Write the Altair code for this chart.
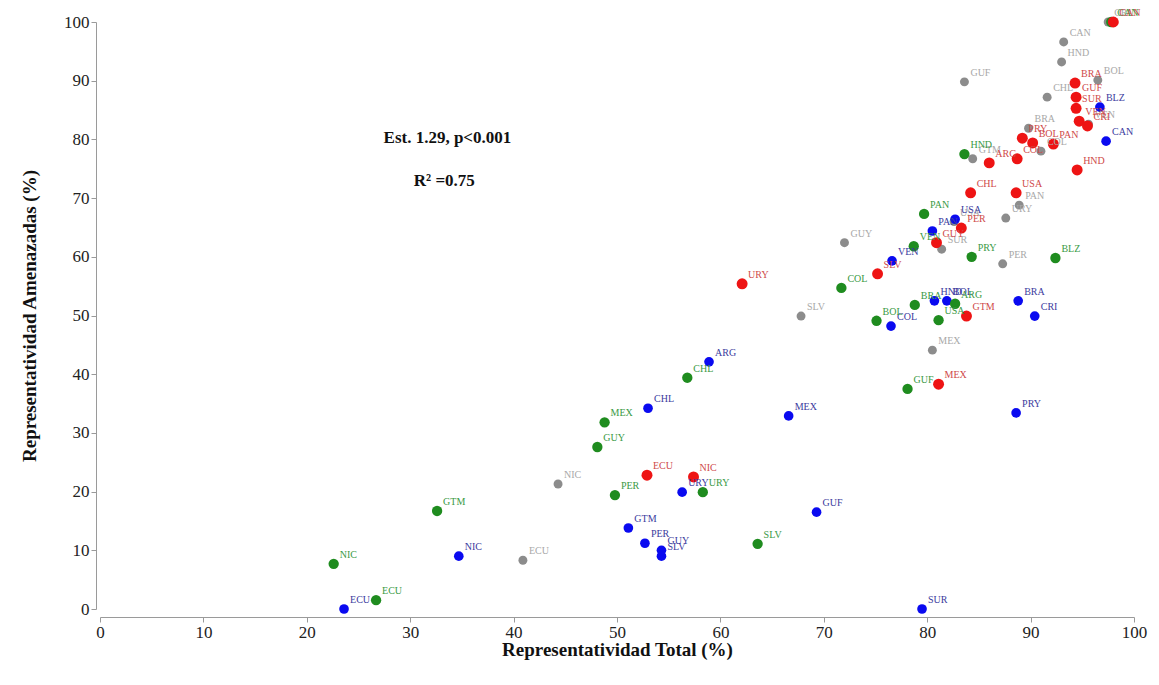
import altair as alt
import pandas as pd

# ---- data ----
gray_labels = ["CRI", "CAN", "HND", "GUF", "BOL", "CHL", "VEN", "BRA", "COL", "GTM",
               "USA", "URY", "PAN", "SUR", "PER", "GUY", "SLV", "MEX", "NIC", "ECU"]
gray_x = [97.5, 93.2, 93.0, 83.6, 96.5, 91.6, 95.6, 89.8, 91.0, 84.4,
          82.6, 87.6, 88.9, 81.4, 87.3, 72.0, 67.8, 80.5, 44.3, 40.9]
gray_y = [100.0, 96.6, 93.2, 89.8, 90.1, 87.2, 82.6, 81.9, 78.0, 76.7,
          66.0, 66.6, 68.8, 61.3, 58.8, 62.4, 49.9, 44.1, 21.3, 8.3]

blue_labels = ["CAN", "BLZ", "USA", "PAN", "VEN", "HND", "BOL", "BRA", "CRI", "COL",
               "ARG", "CHL", "MEX", "PRY", "URY", "GTM", "PER", "GUY", "SLV", "GUF",
               "NIC", "ECU", "SUR"]
blue_x = [97.3, 96.7, 82.7, 80.5, 76.6, 80.7, 81.9, 88.8, 90.4, 76.5,
          58.9, 53.0, 66.6, 88.6, 56.3, 51.1, 52.7, 54.3, 54.3, 69.3,
          34.7, 23.6, 79.5]
blue_y = [79.7, 85.5, 66.4, 64.4, 59.3, 52.5, 52.5, 52.5, 49.9, 48.2,
          42.1, 34.2, 32.9, 33.4, 19.9, 13.8, 11.2, 10.0, 9.0, 16.5,
          9.0, 0.0, 0.0]

green_labels = ["CAN", "HND", "PAN", "VEN", "PRY", "BLZ", "COL", "BRA", "ARG", "BOL",
                "USA", "GUF", "CHL", "MEX", "GUY", "PER", "URY", "SLV", "GTM", "NIC", "ECU"]
green_x = [97.8, 83.6, 79.7, 78.7, 84.3, 92.4, 71.7, 78.8, 82.7, 75.1,
           81.1, 78.1, 56.8, 48.8, 48.1, 49.8, 58.3, 63.6, 32.6, 22.6, 26.7]
green_y = [100.0, 77.5, 67.3, 61.8, 60.0, 59.8, 54.7, 51.8, 52.0, 49.1,
           49.2, 37.5, 39.4, 31.8, 27.6, 19.4, 19.9, 11.1, 16.7, 7.7, 1.5]

red_labels = ["CAN", "BRA", "GUF", "SUR", "VEN", "CRI", "PRY", "BOL", "PAN", "ARG",
              "COL", "HND", "CHL", "USA", "PER", "GUY", "SLV", "URY", "GTM", "MEX",
              "ECU", "NIC"]
red_x = [98.0, 94.3, 94.4, 94.4, 94.7, 95.5, 89.2, 90.2, 92.2, 86.0,
         88.7, 94.5, 84.2, 88.6, 83.3, 80.9, 75.2, 62.1, 83.8, 81.1,
         52.9, 57.4]
red_y = [100.0, 89.6, 87.2, 85.3, 83.1, 82.3, 80.2, 79.4, 79.2, 76.0,
         76.7, 74.8, 70.9, 70.9, 64.9, 62.4, 57.1, 55.4, 49.9, 38.3,
         22.8, 22.5]

groups = ["gris", "azul", "verde", "rojo"]
x_ticks = [0, 10, 20, 30, 40, 50, 60, 70, 80, 90, 100]

ann_text = ["Est. 1.29, p<0.001", "R\u00b2 =0.75"]
ann_x = [33.6, 33.3]
ann_y = [80.2, 72.9]

# ---- build table ----
frames = []
for g, labs, xs, ys in [
    ("gris", gray_labels, gray_x, gray_y),
    ("azul", blue_labels, blue_x, blue_y),
    ("verde", green_labels, green_x, green_y),
    ("rojo", red_labels, red_x, red_y),
]:
    frames.append(pd.DataFrame({"grupo": g, "pais": labs, "total": xs, "amen": ys}))
df = pd.concat(frames, ignore_index=True)
df["orden"] = range(len(df))

ann = pd.DataFrame({"t": ann_text, "x": ann_x, "y": ann_y})

FONT = "Liberation Serif"

xenc = alt.X("total:Q", scale=alt.Scale(domain=[0, 100], nice=False),
             axis=alt.Axis(values=x_ticks, title="Representatividad Total (%)", offset=8,
                           labelFlush=False))
yenc = alt.Y("amen:Q", scale=alt.Scale(domain=[0, 100], nice=False),
             axis=alt.Axis(values=x_ticks, title="Representatividad Amenazadas (%)", offset=4,
                           labelFlush=False))

points = alt.Chart(df).mark_circle(opacity=1).encode(
    x=xenc,
    y=yenc,
    color=alt.Color("grupo:N", scale=alt.Scale(domain=groups,
                    range=["#8c8c8c", "#0a0af0", "#1f8c1f", "#ee1414"]), legend=None),
    size=alt.Size("grupo:N", scale=alt.Scale(domain=groups, range=[80, 120, 120, 100]), legend=None),
    order=alt.Order("orden:Q"),
)

labels = alt.Chart(df).mark_text(
    align="left", baseline="middle", dx=6, dy=-9, font=FONT, fontSize=10
).encode(
    x="total:Q",
    y="amen:Q",
    text="pais:N",
    color=alt.Color("grupo:N", scale=alt.Scale(domain=groups,
                    range=["#a8a8a8", "#3b3b9e", "#3a9a45", "#cf4a4a"]), legend=None),
)

annot = alt.Chart(ann).mark_text(
    align="center", baseline="middle", font=FONT, fontSize=17, fontWeight="bold", color="#111111"
).encode(x="x:Q", y="y:Q", text="t:N")

chart = alt.layer(points, labels, annot).resolve_scale(color="independent").properties(
    width=1034, height=587,
    padding={"left": 100, "top": 22, "right": 25, "bottom": 76},
    autosize=alt.AutoSizeParams(type="none"),
).configure_view(stroke=None).configure_axis(
    grid=False,
    labelFont=FONT, labelFontSize=17, labelColor="#222222",
    titleFont=FONT, titleFontSize=19, titleFontWeight="bold", titleColor="#111111",
    domainColor="#9a9a9a", tickColor="#9a9a9a", tickSize=5,
).configure_axisX(labelPadding=2, titlePadding=0).configure_axisY(labelPadding=2, titlePadding=24)

chart.save("out.html", embed_options={"renderer": "svg", "actions": False})
